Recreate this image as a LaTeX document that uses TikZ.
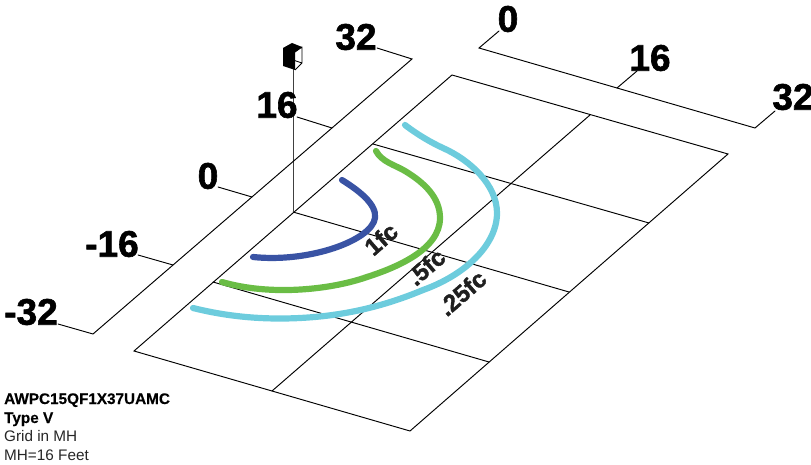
\documentclass[tikz,border=0pt]{standalone}
\usepackage{fontspec}
\setmainfont{Liberation Sans}
\newfontfamily\heavyfont[FakeBold=1.6]{Liberation Sans Bold}
\newfontfamily\notefont[FakeBold=0.3]{Liberation Sans Bold}
\definecolor{isoblue}{HTML}{3953A4}
\definecolor{isogreen}{HTML}{6ABD45}
\definecolor{isocyan}{HTML}{6DCCDD}
\tikzset{
  gridline/.style={draw=black,line width=0.95pt,line cap=round,line join=miter},
  poleline/.style={draw=black!75,line width=1pt},
  contour/.style={line width=6.2pt,line cap=round,line join=round},
  ticklabel/.style={font=\fontsize{37}{37}\selectfont\heavyfont,inner sep=0pt,text=black},
  fclabel/.style={font=\fontsize{24}{24}\selectfont\heavyfont,inner sep=0pt,rotate=41,text=black!88},
  notebold/.style={font=\fontsize{15.3}{15.3}\selectfont\notefont,inner sep=0pt,anchor=base west},
  noteplain/.style={font=\fontsize{15.3}{15.3}\selectfont,inner sep=0pt,anchor=base west,text=black!85},
}
\begin{document}
\begin{tikzpicture}[x=1pt,y=-1pt]
\useasboundingbox (0,0) rectangle (811,465);
% grid corners
\coordinate (gT) at (452,75);
\coordinate (gR) at (728,154);
\coordinate (gB) at (410,431);
\coordinate (gL) at (134,351);
\coordinate (gTm) at (590,115);
\coordinate (gBm) at (272,391);
\coordinate (gL1) at (373,144);
\coordinate (gR1) at (649,223);
\coordinate (gL2) at (293,212);
\coordinate (gR2) at (569,292);
\coordinate (gL3) at (213,282);
\coordinate (gR3) at (489,362);
\draw[gridline] (gT) -- (gR) -- (gB) -- (gL) -- cycle;
\draw[gridline] (gTm) -- (gBm);
\draw[gridline] (gL1) -- (gR1);
\draw[gridline] (gL2) -- (gR2);
\draw[gridline] (gL3) -- (gR3);
% pole and luminaire
\coordinate (poleTop) at (293,68);
\draw[poleline] (gL2) -- (poleTop);
\fill[black] (283,48) -- (292,43) -- (302,47) -- (295,52) -- (295,70) -- (283,66) -- cycle;
\draw[black,line width=0.9pt,line join=round] (295,52) -- (302,47) -- (302,63) -- (295,70) (293,60) -- (302,63);
% left axis
\node[ticklabel] (l32) at (356,37) {32};
\node[ticklabel] (l16) at (277,105) {16};
\node[ticklabel] (l0) at (208,176) {0};
\node[ticklabel] (ln16) at (112,244) {-16};
\node[ticklabel] (ln32) at (31,312) {-32};
\coordinate (a32) at (412,59);
\coordinate (a16) at (332,128);
\coordinate (a0) at (252,197);
\coordinate (an16) at (173,265);
\coordinate (an32) at (93,334);
\coordinate (t32) at (377,48);
\coordinate (t16) at (297,117);
\coordinate (t0) at (218,187);
\coordinate (tn16) at (138,255);
\coordinate (tn32) at (58,324);
\draw[gridline] (t32) -- (a32) -- (an32) -- (tn32);
\draw[gridline] (t16) -- (a16);
\draw[gridline] (t0) -- (a0);
\draw[gridline] (tn16) -- (an16);
% top axis
\node[ticklabel] (u0) at (508,19) {0};
\node[ticklabel] (u16) at (650,58) {16};
\node[ticklabel] (u32) at (793,97) {32};
\coordinate (b0) at (479,48);
\coordinate (b16) at (617,88);
\coordinate (b32) at (755,128);
\coordinate (s0) at (499,31);
\coordinate (s16) at (637,71);
\coordinate (s32) at (775,111);
\draw[gridline] (s0) -- (b0) -- (b32) -- (s32);
\draw[gridline] (s16) -- (b16);
% contours
\draw[contour,isoblue] (342,180) .. controls (358,190) and (377,204) .. (375,218) .. controls (372,240) and (310,263) .. (253,257);
\draw[contour,isogreen] (376,151) .. controls (382,162) and (395,165) .. (405,171) .. controls (425,183) and (440,198) .. (440,218) .. controls (440,250) and (395,268) .. (367,277) .. controls (330,290) and (270,296) .. (222,282);
\draw[contour,isocyan] (405,125) .. controls (418,135) and (432,143) .. (443,148) .. controls (470,160) and (497,185) .. (497,213) .. controls (497,245) and (465,275) .. (423,290) .. controls (380,308) and (340,316) .. (300,318) .. controls (260,320) and (225,316) .. (193,308);
% contour labels
\node[fclabel] (fc1) at (381,239) {1fc};
\node[fclabel] (fc5) at (426,267) {.5fc};
\node[fclabel] (fc25) at (462,293) {.25fc};
% note
\node[notebold] (n1) at (4,404) {AWPC15QF1X37UAMC};
\node[notebold] (n2) at (4,423) {Type V};
\node[noteplain] (n3) at (4,441) {Grid in MH};
\node[noteplain] (n4) at (4,460) {MH=16 Feet};
\end{tikzpicture}
\end{document}
